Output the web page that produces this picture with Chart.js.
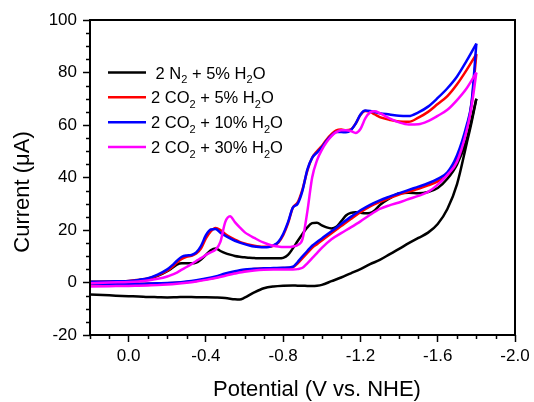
<!DOCTYPE html>
<html>
<head>
<meta charset="utf-8">
<script src="https://cdn.jsdelivr.net/npm/chart.js@4.4.1/dist/chart.umd.min.js"></script>
<style>
  html, body { margin: 0; padding: 0; background: #ffffff; }
  canvas { display: block; }
</style>
</head>
<body>
<canvas id="cv" width="534" height="402"></canvas>
<script>
// ---------------- DATA ----------------
// Potential grid of the cathodic (forward) sweep, V vs. NHE
const potentialForward = [
  0.2, 0.1, 0.0, -0.05, -0.1, -0.15,
  -0.2, -0.225, -0.25, -0.275, -0.3, -0.325, -0.35, -0.375, -0.4, -0.425,
  -0.45, -0.475, -0.5, -0.525, -0.55, -0.575, -0.6, -0.625, -0.65, -0.675,
  -0.7, -0.725, -0.75, -0.775, -0.8, -0.825, -0.85, -0.875, -0.9, -0.925,
  -0.95, -0.975, -1.0, -1.025, -1.05, -1.075, -1.1, -1.125, -1.15, -1.175,
  -1.2, -1.225, -1.25, -1.275, -1.3,
  -1.35, -1.4, -1.45, -1.5, -1.55, -1.6, -1.65, -1.7, -1.75, -1.8
];
// Potential grid of the anodic (return) sweep, V vs. NHE
const potentialReverse = [
  -1.8, -1.775, -1.75, -1.7, -1.65, -1.6, -1.55, -1.5, -1.45, -1.4,
  -1.35, -1.3, -1.25, -1.2, -1.15, -1.1, -1.05, -1.0, -0.975, -0.95,
  -0.925, -0.9, -0.875, -0.85, -0.8, -0.75, -0.7, -0.65, -0.6, -0.575,
  -0.55, -0.5, -0.45, -0.4, -0.35, -0.3, -0.25, -0.2, -0.15, -0.1,
  -0.05, 0.0, 0.1, 0.2
];

// Currents (µA)
const currentN2Water5Forward = [
  0.2, 0.2, 0.3, 0.6, 1.2, 2.5,
  4.3, 5.5, 6.8, 7.3, 7.3, 7.3, 7.6, 8.8, 10.5, 12.3,
  13.0, 12.0, 11.2, 10.6, 10.1, 9.8, 9.6, 9.4, 9.3, 9.2,
  9.2, 9.2, 9.2, 9.2, 9.4, 10.5, 13.0, 15.8, 18.5, 21.0,
  22.6, 22.8, 21.8, 21.0, 20.6, 21.2, 23.3, 25.5, 26.5, 26.8,
  26.6, 26.4, 26.5, 27.5, 29.5,
  32.0, 34.0, 34.2, 34.0, 34.5, 36.0, 39.5, 45.0, 54.5, 70.0
];
const currentN2Water5Reverse = [
  70.0, 61.0, 53.0, 37.5, 28.0, 22.3, 19.0, 17.0, 15.0, 12.8,
  10.7, 8.6, 7.0, 5.1, 3.5, 1.9, 0.5, -0.9, -1.2, -1.3,
  -1.3, -1.2, -1.2, -1.1, -1.2, -1.5, -2.2, -3.8, -5.8, -6.5,
  -6.4, -5.9, -5.7, -5.6, -5.6, -5.5, -5.6, -5.7, -5.6, -5.5,
  -5.3, -5.2, -4.9, -4.6
];

const currentCO2Water5Forward = [
  0.3, 0.4, 0.6, 1.0, 1.5, 2.7,
  4.5, 5.9, 7.6, 9.0, 9.8, 10.2, 11.0, 13.0, 16.8, 19.5,
  20.8, 20.0, 18.5, 17.3, 16.3, 15.5, 14.9, 14.4, 14.0, 13.7,
  13.6, 13.6, 14.0, 15.2, 18.0, 22.5, 28.5, 30.5, 35.5, 42.5,
  47.5, 50.0, 52.0, 54.5, 56.5, 58.0, 58.3, 58.0, 58.3, 60.5,
  63.8, 65.3, 65.0, 64.0, 63.0,
  62.0, 61.3, 61.2, 62.8, 65.0, 68.0, 71.0, 75.5, 81.0, 87.0
];
const currentCO2Water5Reverse = [
  87.0, 68.0, 58.5, 47.0, 41.0, 38.5, 37.0, 35.7, 34.6, 33.5,
  32.2, 30.7, 29.0, 26.8, 24.2, 21.5, 18.8, 16.0, 14.6, 13.2,
  11.3, 9.3, 7.3, 5.8, 5.5, 5.4, 5.3, 5.1, 4.7, 4.3,
  3.8, 2.9, 1.9, 1.2, 0.6, 0.2, -0.1, -0.3, -0.4, -0.5,
  -0.6, -0.7, -0.8, -0.8
];

const currentCO2Water10Forward = [
  0.3, 0.4, 0.6, 1.0, 1.6, 3.0,
  5.0, 6.5, 8.3, 9.8, 10.3, 10.5, 11.5, 14.0, 18.0, 20.2,
  20.4, 19.0, 17.8, 16.8, 15.9, 15.2, 14.6, 14.1, 13.7, 13.5,
  13.4, 13.5, 14.2, 15.5, 18.5, 23.0, 28.5, 30.0, 35.0, 43.0,
  47.5, 49.5, 51.5, 54.0, 56.0, 57.3, 57.3, 57.2, 58.0, 60.5,
  64.0, 65.5, 65.3, 64.9, 64.5,
  64.0, 63.5, 63.4, 64.8, 67.0, 70.3, 74.0, 78.5, 84.5, 91.0
];
const currentCO2Water10Reverse = [
  91.0, 68.5, 60.0, 48.5, 42.0, 39.5, 37.8, 36.5, 35.3, 34.0,
  32.7, 31.3, 29.6, 27.5, 25.0, 22.3, 19.5, 16.8, 15.4, 14.0,
  12.0, 10.0, 7.8, 6.0, 5.6, 5.5, 5.4, 5.2, 5.0, 4.7,
  4.3, 3.4, 2.3, 1.5, 0.9, 0.4, 0.0, -0.2, -0.3, -0.4,
  -0.5, -0.5, -0.5, -0.4
];

const currentCO2Water30Forward = [
  -0.3, 0.0, 0.2, 0.4, 0.8, 1.4,
  2.3, 3.0, 3.8, 4.9, 5.9, 7.0, 8.2, 9.3, 10.5, 11.5,
  12.5, 15.5, 23.0, 25.2, 23.0, 21.0, 19.2, 18.0, 17.0, 16.0,
  15.2, 14.5, 14.0, 13.7, 13.5, 13.5, 13.7, 14.3, 16.5, 27.0,
  40.0, 46.5, 50.5, 53.5, 55.8, 57.3, 58.0, 58.0, 57.7, 57.0,
  58.5, 62.5, 64.8, 65.2, 64.5,
  62.5, 61.0, 60.2, 60.3, 61.5, 63.5, 65.8, 69.5, 74.0, 80.0
];
const currentCO2Water30Reverse = [
  80.0, 67.0, 58.0, 46.0, 41.0, 37.3, 34.5, 33.0, 31.8, 30.5,
  29.4, 28.0, 25.8, 23.3, 21.0, 18.8, 16.5, 13.2, 11.2, 9.3,
  7.3, 5.6, 5.1, 5.0, 5.0, 5.0, 4.9, 4.6, 4.1, 3.8,
  3.4, 2.6, 1.7, 1.0, 0.4, -0.1, -0.5, -0.8, -1.0, -1.1,
  -1.2, -1.3, -1.4, -1.5
];

// Legend labels ("_2" marks a subscript 2)
const seriesLabels = [
  ' 2 N_2 + 5% H_2O',
  '2 CO_2 + 5% H_2O',
  '2 CO_2 + 10% H_2O',
  '2 CO_2 + 30% H_2O'
];

// Axis ticks
const xTickValues = [0.0, -0.4, -0.8, -1.2, -1.6, -2.0];
const xTickLabels = ['0.0', '-0.4', '-0.8', '-1.2', '-1.6', '-2.0'];
const xMinorTickValues = [0.2, 0.1, -0.1, -0.2, -0.3, -0.5, -0.6, -0.7, -0.9, -1.0, -1.1, -1.3, -1.4, -1.5, -1.7, -1.8, -1.9];
const yTickValues = [-20, 0, 20, 40, 60, 80, 100];
const yTickLabels = ['-20', '0', '20', '40', '60', '80', '100'];
const yMinorTickValues = [-15, -10, -5, 5, 10, 15, 25, 30, 35, 45, 50, 55, 65, 70, 75, 85, 90, 95];

const xTitle = 'Potential (V vs. NHE)';
const yTitle = 'Current (\u03BCA)';

// ---------------- CHART ----------------
const FONT = '"Liberation Sans", Arial, Helvetica, sans-serif';
Chart.defaults.font.family = FONT;
Chart.defaults.color = '#000000';

const seriesStyles = [
  { color: '#000000', order: 4 },
  { color: '#ff0000', order: 3 },
  { color: '#0000ff', order: 2 },
  { color: '#ff00ff', order: 1 }
];
const seriesData = [
  [currentN2Water5Forward, currentN2Water5Reverse],
  [currentCO2Water5Forward, currentCO2Water5Reverse],
  [currentCO2Water10Forward, currentCO2Water10Reverse],
  [currentCO2Water30Forward, currentCO2Water30Reverse]
];

function toPoints(pot, cur) {
  return pot.map((v, i) => ({ x: v, y: cur[i] }));
}

const datasets = [];
seriesData.forEach((pair, si) => {
  const st = seriesStyles[si];
  [[potentialForward, pair[0]], [potentialReverse, pair[1]]].forEach(([pot, cur], bi) => {
    datasets.push({
      label: seriesLabels[si] + (bi ? ' (return)' : ''),
      data: toPoints(pot, cur),
      showLine: true,
      borderColor: st.color,
      backgroundColor: st.color,
      borderWidth: 2.5,
      pointRadius: 0,
      pointHoverRadius: 0,
      fill: false,
      cubicInterpolationMode: 'monotone',
      order: st.order
    });
  });
});

const decorPlugin = {
  id: 'decor',
  afterDraw(chart) {
    const ctx = chart.ctx;
    const a = chart.chartArea;
    const xs = chart.scales.x, ys = chart.scales.y;
    ctx.save();
    // frame
    ctx.strokeStyle = '#000000';
    ctx.lineWidth = 2;
    ctx.strokeRect(a.left, a.top, a.right - a.left, a.bottom - a.top);
    // minor ticks
    ctx.lineWidth = 1.5;
    ctx.beginPath();
    xMinorTickValues.forEach(v => {
      const px = Math.round(xs.getPixelForValue(v)) + 0.5;
      ctx.moveTo(px, a.bottom);
      ctx.lineTo(px, a.bottom + 4);
    });
    yMinorTickValues.forEach(v => {
      const py = Math.round(ys.getPixelForValue(v)) + 0.5;
      ctx.moveTo(a.left - 4, py);
      ctx.lineTo(a.left, py);
    });
    ctx.stroke();
    // axis titles
    ctx.fillStyle = '#000000';
    ctx.font = '22px ' + FONT;
    ctx.textAlign = 'center';
    ctx.textBaseline = 'alphabetic';
    ctx.fillText(xTitle, 317, 396);
    ctx.save();
    ctx.translate(29, 192);
    ctx.rotate(-Math.PI / 2);
    ctx.fillText(yTitle, 0, 0);
    ctx.restore();
    // legend
    const rowY = [72.5, 97.3, 122.2, 147];
    const size = 16.5;
    seriesLabels.forEach((lab, i) => {
      const y = rowY[i];
      ctx.strokeStyle = seriesStyles[i].color;
      ctx.lineWidth = 2.5;
      ctx.beginPath();
      ctx.moveTo(108, y);
      ctx.lineTo(146, y);
      ctx.stroke();
      let x = 151;
      const parts = lab.split(/_(\d)/);
      ctx.textAlign = 'left';
      ctx.fillStyle = '#000000';
      parts.forEach((p, k) => {
        const sub = k % 2 === 1;
        const fs = sub ? 11 : size;
        ctx.font = fs + 'px ' + FONT;
        ctx.fillText(p, x, y + 6 + (sub ? 4.5 : 0));
        x += ctx.measureText(p).width;
      });
    });
    ctx.restore();
  }
};

new Chart(document.getElementById('cv'), {
  type: 'scatter',
  data: { datasets },
  options: {
    responsive: false,
    animation: false,
    devicePixelRatio: 1,
    layout: { padding: { top: 20, right: 19, left: 0, bottom: 0 } },
    plugins: {
      legend: { display: false },
      tooltip: { enabled: false },
      title: { display: false }
    },
    scales: {
      x: {
        type: 'linear',
        min: -2.0,
        max: 0.2,
        reverse: true,
        border: { display: false },
        grid: { drawOnChartArea: false, drawTicks: true, tickLength: 7, tickWidth: 1.5, tickColor: '#000000' },
        ticks: {
          font: { size: 17 },
          color: '#000000',
          padding: 4,
          maxRotation: 0,
          autoSkip: false,
          callback: (v, i) => xTickLabels[i]
        },
        afterBuildTicks: s => { s.ticks = xTickValues.map(v => ({ value: v })); },
        afterFit: s => { s.height = 67; }
      },
      y: {
        type: 'linear',
        min: -20,
        max: 100,
        border: { display: false },
        grid: { drawOnChartArea: false, drawTicks: true, tickLength: 7, tickWidth: 1.5, tickColor: '#000000' },
        ticks: {
          font: { size: 17 },
          color: '#000000',
          padding: 6,
          autoSkip: false,
          callback: (v, i) => yTickLabels[i]
        },
        afterBuildTicks: s => { s.ticks = yTickValues.map(v => ({ value: v })); },
        afterFit: s => { s.width = 90; }
      }
    }
  },
  plugins: [decorPlugin]
});
</script>
</body>
</html>
